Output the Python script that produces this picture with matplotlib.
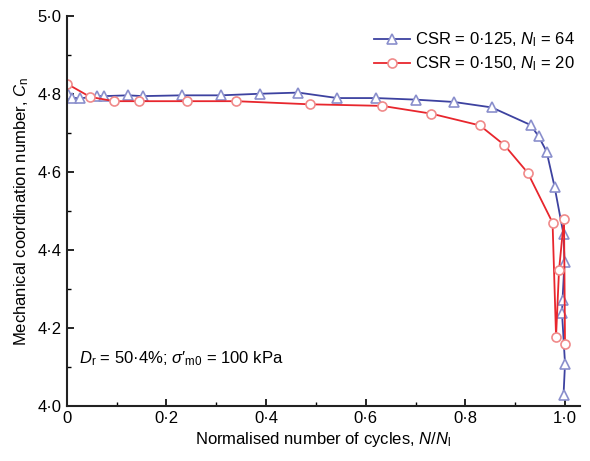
import matplotlib
matplotlib.use("Agg")
import matplotlib.pyplot as plt
from matplotlib.ticker import FuncFormatter, MultipleLocator

plt.rcParams['font.family'] = ['Liberation Sans', 'DejaVu Sans']
plt.rcParams['mathtext.fontset'] = 'custom'
plt.rcParams['mathtext.rm'] = 'Liberation Sans'
plt.rcParams['mathtext.it'] = 'Liberation Sans:italic'

# CSR = 0.125, N_l = 64
n_blue = [0.003, 0.010, 0.027, 0.060, 0.075, 0.123, 0.153, 0.231, 0.310, 0.387,
          0.465, 0.543, 0.621, 0.700, 0.777, 0.853, 0.931, 0.947, 0.963, 0.979,
          0.997, 0.999, 0.995, 0.994, 1.000, 0.997]
c_blue = [4.800, 4.790, 4.788, 4.794, 4.794, 4.796, 4.794, 4.796, 4.796, 4.800,
          4.803, 4.789, 4.789, 4.785, 4.779, 4.765, 4.720, 4.691, 4.652, 4.562,
          4.440, 4.370, 4.272, 4.238, 4.109, 4.028]

# CSR = 0.150, N_l = 20
n_red = [0.000, 0.047, 0.095, 0.145, 0.241, 0.340, 0.488, 0.633, 0.732, 0.829,
         0.878, 0.925, 0.975, 0.982, 0.988, 0.998, 1.000]
c_red = [4.826, 4.792, 4.781, 4.781, 4.781, 4.781, 4.773, 4.769, 4.749, 4.719,
         4.669, 4.598, 4.470, 4.178, 4.349, 4.479, 4.158]

fig = plt.figure(figsize=(5.9, 4.61), dpi=100)
ax = fig.add_axes([0.113, 0.119, 0.87, 0.847])

ax.plot(n_blue, c_blue, color='#3d42a0', lw=1.3, marker='^', ms=6.5,
        mfc='white', mec='#8a8fcc', mew=1.2,
        label=r'CSR = 0·125, $N_\mathrm{l}$ = 64')
ax.plot(n_red, c_red, color='#e8262d', lw=1.3, marker='o', ms=6.5,
        mfc='white', mec='#f08a8a', mew=1.2,
        label=r'CSR = 0·150, $N_\mathrm{l}$ = 20')

ax.set_xlim(0, 1.03)
ax.set_ylim(4.0, 5.0)
ax.xaxis.set_major_locator(MultipleLocator(0.2))
ax.xaxis.set_minor_locator(MultipleLocator(0.1))
ax.yaxis.set_major_locator(MultipleLocator(0.2))
ax.yaxis.set_minor_locator(MultipleLocator(0.1))

def xfmt(v, pos):
    if abs(v) < 1e-9:
        return '0'
    return f'{v:.1f}'.replace('.', '·')

def yfmt(v, pos):
    return f'{v:.1f}'.replace('.', '·')

ax.xaxis.set_major_formatter(FuncFormatter(xfmt))
ax.yaxis.set_major_formatter(FuncFormatter(yfmt))
ax.tick_params(direction='in', which='major', length=5, width=1.2, labelsize=12)
ax.tick_params(direction='in', which='minor', length=3, width=1.0)

for s in ['top', 'right']:
    ax.spines[s].set_visible(False)
for s in ['left', 'bottom']:
    ax.spines[s].set_linewidth(1.5)
    ax.spines[s].set_color('#222222')

ax.set_xlabel(r'Normalised number of cycles, $N/N_\mathrm{l}$', fontsize=12, labelpad=3)
ax.set_ylabel(r'Mechanical coordination number, $C_\mathrm{n}$', fontsize=12, labelpad=5)

ax.text(0.025, 4.11, r"$D_\mathrm{r}$ = 50·4%; $σ′_\mathrm{m0}$ = 100 kPa", fontsize=12)

ax.legend(loc='upper right', bbox_to_anchor=(1.02, 1.0), frameon=False, fontsize=12,
          handlelength=2.2, handletextpad=0.3, labelspacing=0.3)

fig.savefig('out.png', dpi=100)
